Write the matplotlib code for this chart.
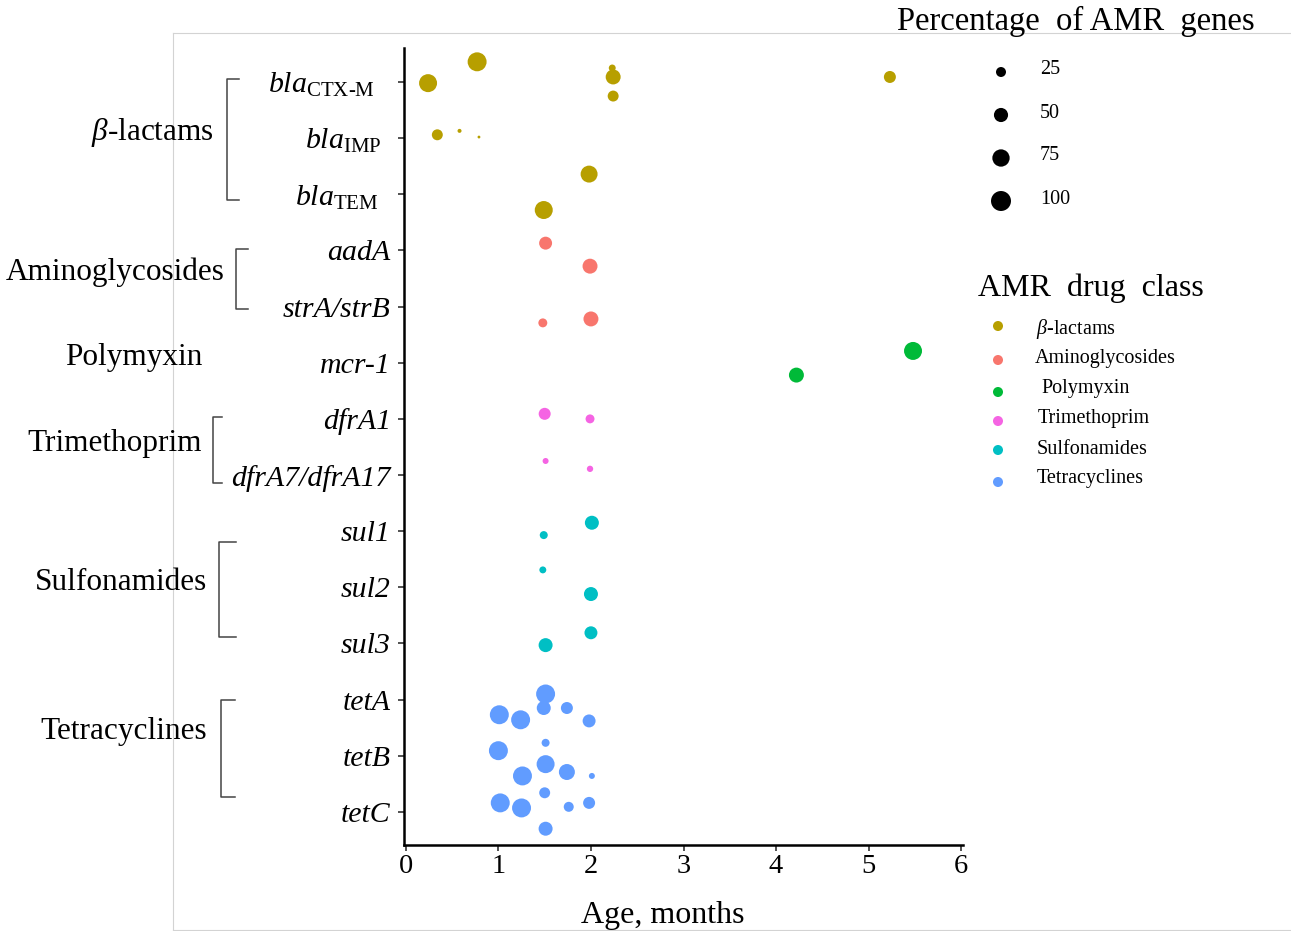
import matplotlib
matplotlib.use("Agg")
import matplotlib.pyplot as plt
from matplotlib.lines import Line2D
import matplotlib.transforms as mtransforms
import numpy as np

plt.rcParams['font.family'] = ['Liberation Serif', 'DejaVu Serif']
plt.rcParams['mathtext.fontset'] = 'custom'
plt.rcParams['mathtext.rm'] = 'Liberation Serif'
plt.rcParams['mathtext.it'] = 'Liberation Serif:italic'
plt.rcParams['mathtext.bf'] = 'Liberation Serif:bold'

# ---------------- data ----------------
genes = [r'$\mathit{bla}_{\mathrm{CTX}\text{-}\mathrm{M}}$', r'$\mathit{bla}_{\mathrm{IMP}}$',
         r'$\mathit{bla}_{\mathrm{TEM}}$', 'aadA', 'strA/strB', 'mcr-1', 'dfrA1',
         'dfrA7/dfrA17', 'sul1', 'sul2', 'sul3', 'tetA', 'tetB', 'tetC']

classes = ['β-lactams', 'Aminoglycosides', 'Polymyxin', 'Trimethoprim',
           'Sulfonamides', 'Tetracyclines']
class_colors = ['#B79F00', '#F8766D', '#00BA38', '#F564E3', '#00BFC4', '#619CFF']

# age (months), jittered gene position, percentage of AMR genes
betalactam_age = [0.24, 0.77, 2.24, 2.23, 2.24, 5.23, 0.34, 0.58, 0.79, 1.98, 1.49]
betalactam_pos = [0.02, -0.36, -0.09, -0.25, 0.25, -0.09, 0.94, 0.87, 0.98, 1.64, 2.28]
betalactam_pct = [81, 90, 56, 12, 30, 36, 30, 4, 2, 72, 81]

amino_age = [1.51, 1.99, 1.48, 2.00]
amino_pos = [2.87, 3.28, 4.29, 4.22]
amino_pct = [42, 56, 20, 56]

polymyxin_age = [5.48, 4.22]
polymyxin_pos = [4.79, 5.22]
polymyxin_pct = [81, 56]

trimeth_age = [1.50, 1.99, 1.51, 1.99]
trimeth_pos = [5.91, 6.00, 6.75, 6.89]
trimeth_pct = [36, 20, 9, 10]

sulfa_age = [2.01, 1.49, 1.48, 2.00, 2.00, 1.51]
sulfa_pos = [7.85, 8.07, 8.69, 9.12, 9.81, 10.03]
sulfa_pct = [49, 16, 12, 49, 42, 49]

tetra_age = [1.51, 1.49, 1.74, 1.01, 1.24, 1.98, 1.51, 1.00, 1.51, 1.26, 1.74,
             2.01, 1.50, 1.02, 1.25, 1.76, 1.98, 1.51]
tetra_pos = [10.90, 11.15, 11.15, 11.27, 11.36, 11.38, 11.77, 11.91, 12.15, 12.36,
             12.29, 12.36, 12.66, 12.84, 12.93, 12.91, 12.84, 13.30]
tetra_pct = [90, 49, 36, 90, 90, 42, 16, 90, 81, 90, 64, 9, 30, 90, 90, 25, 36, 49]

size_breaks = [25, 50, 75, 100]
x_ticks = [0, 1, 2, 3, 4, 5, 6]

series = [(betalactam_age, betalactam_pos, betalactam_pct),
          (amino_age, amino_pos, amino_pct),
          (polymyxin_age, polymyxin_pos, polymyxin_pct),
          (trimeth_age, trimeth_pos, trimeth_pct),
          (sulfa_age, sulfa_pos, sulfa_pct),
          (tetra_age, tetra_pos, tetra_pct)]


def size_of(p):
    return 2.07 * np.asarray(p, dtype=float)

# ---------------- figure ----------------
W, H = 1291, 931
fig = plt.figure(figsize=(W / 100, H / 100), dpi=100)


def fx(px):
    return px / W


def fy(py):
    return 1 - py / H

ax = fig.add_axes([fx(404), fy(845), fx(963) - fx(404), fy(48) - fy(845)])

for (ages, pos, pct), col in zip(series, class_colors):
    ax.scatter(ages, pos, s=size_of(pct), color=col, edgecolors='none', zorder=3)

ax.set_xlim(-0.02, 6.02)
ax.set_ylim(13.59, -0.606)
ax.set_xticks(x_ticks)
ax.set_xticklabels([str(t) for t in x_ticks], fontsize=20.5)
ax.set_yticks(range(len(genes)))
ax.set_yticklabels(genes, fontsize=21.5)
for lab in ax.get_yticklabels():
    lab.set_fontstyle('italic')
for sp in ['top', 'right']:
    ax.spines[sp].set_visible(False)
for sp in ['left', 'bottom']:
    ax.spines[sp].set_linewidth(1.8)
ax.tick_params(axis='both', length=4.5, width=1.2, color='#333333')
ax.tick_params(axis='y', pad=5)
ax.tick_params(axis='x', pad=2)

# the bla labels sit a little further left in the original
bla_shift_px = [16, 9, 12]
for lab, dx in zip(ax.get_yticklabels()[:3], bla_shift_px):
    lab.set_transform(lab.get_transform() +
                      mtransforms.ScaledTranslation(-dx / 100, 0, fig.dpi_scale_trans))

fig.text(fx(663), fy(915), 'Age, months', fontsize=23, ha='center', va='center')

# ---------------- grey frame ----------------
frame_col = '#d3d3d3'
fig.add_artist(Line2D([fx(173), fx(1291)], [fy(33), fy(33)], color=frame_col, lw=0.8))
fig.add_artist(Line2D([fx(173), fx(173)], [fy(33), fy(931)], color=frame_col, lw=0.8))
fig.add_artist(Line2D([fx(173), fx(1291)], [fy(929.5), fy(929.5)], color=frame_col, lw=0.8))

# ---------------- group labels and brackets ----------------
group_labels = [(r'$\mathit{β}$-lactams', 152, 133), ('Aminoglycosides', 115, 272),
                ('Polymyxin', 134, 358), ('Trimethoprim', 115, 443),
                ('Sulfonamides', 121, 582), ('Tetracyclines', 124, 731)]
for txt, x, y in group_labels:
    fig.text(fx(x), fy(y), txt, fontsize=22.5, ha='center', va='center')

brackets = [(227, 239, 79, 200), (236, 248, 249, 309), (213, 222, 417, 483),
            (219, 236, 542, 637), (221, 235, 700, 797)]
for xv, xe, y0, y1 in brackets:
    fig.add_artist(Line2D([fx(xe), fx(xv), fx(xv), fx(xe)],
                          [fy(y0), fy(y0), fy(y1), fy(y1)],
                          color='#444444', lw=1.1))

# ---------------- legends ----------------
lax = fig.add_axes([0, 0, 1, 1])
lax.set_xlim(0, W)
lax.set_ylim(H, 0)
lax.axis('off')

fig.text(fx(897), fy(21), 'Percentage  of AMR  genes', fontsize=23.5, ha='left', va='center')
size_y = [72, 115, 158, 201]
for b, yy in zip(size_breaks, size_y):
    lax.scatter([1001], [yy], s=size_of([b]), color='black', edgecolors='none')
    lax.text(1040, yy - 2, str(b), fontsize=14.5, ha='left', va='center')

fig.text(fx(978), fy(288), 'AMR  drug  class', fontsize=23, ha='left', va='center')
col_y = [326, 360, 392, 421, 450, 482]
lab_x = [1036, 1035, 1041, 1038, 1037, 1037]
lab_y = [329, 358, 389, 419, 450, 479]
col_labels = [r'$\mathit{β}$-lactams'] + classes[1:]
for c, cy, lx, ly, lab in zip(class_colors, col_y, lab_x, lab_y, col_labels):
    lax.scatter([998], [cy], s=52, color=c, edgecolors='none')
    lax.text(lx, ly, lab, fontsize=14.5, ha='left', va='center')

fig.savefig('out.png', dpi=100)
